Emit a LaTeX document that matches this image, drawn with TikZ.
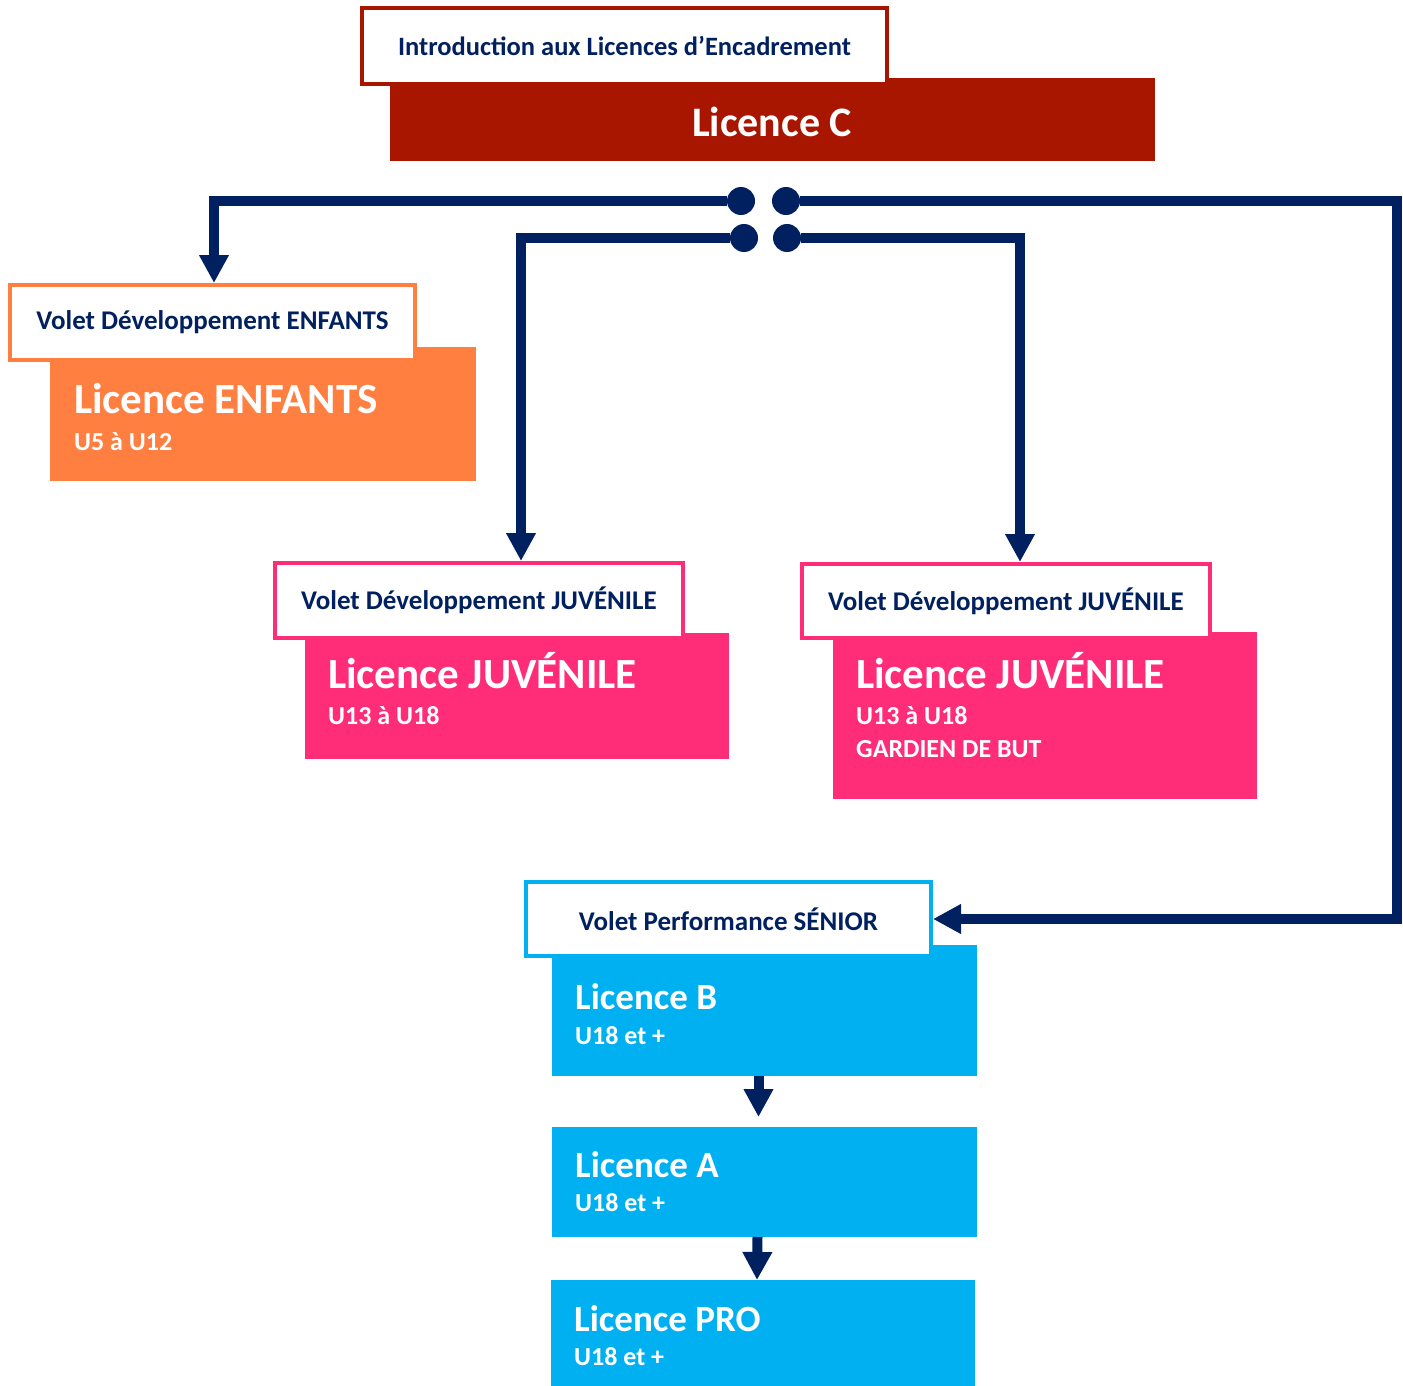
\documentclass[tikz,border=0pt]{standalone}
\usepackage{fontspec}
\setmainfont{Carlito}
\usetikzlibrary{arrows.meta,calc,positioning}
\definecolor{navy}{HTML}{002060}
\definecolor{lcred}{HTML}{A81600}
\definecolor{lcorange}{HTML}{FF7F41}
\definecolor{lcpink}{HTML}{FF2D78}
\definecolor{lccyan}{HTML}{00B0F0}

\begin{document}
\begin{tikzpicture}[x=1pt,y=-1pt,%
lbl/.style = {draw, line width=4pt, fill=white, text=navy, font=\bfseries\fontsize{27}{31}\selectfont, minimum width=405pt, minimum height=75pt, inner sep=0pt},
blk/.style = {minimum width=425pt, inner sep=0pt, outer sep=0pt},
big/.style = {anchor=base west, inner sep=0pt, text=white, font=\bfseries\fontsize{43}{47}\selectfont},
sub/.style = {anchor=base west, inner sep=0pt, text=white, font=\bfseries\fontsize{26}{30}\selectfont},
bigb/.style = {big, font=\bfseries\fontsize{37}{41}\selectfont},
dot/.style = {circle, fill=navy, minimum size=28pt, inner sep=0pt},
link/.style = {draw=navy, line width=10pt, -{Triangle[length=28pt,width=28pt]}}]
\useasboundingbox (0,0) rectangle (1403,1386);

\node[blk, fill=lcred, minimum width=765pt, minimum height=83pt] (cbox) at (772.5,119.5) {};
\node[lbl, draw=lcred, minimum width=525pt, minimum height=76pt, font=\bfseries\fontsize{26.5}{30}\selectfont] (intro) at (624.5,46) {Introduction aux Licences d’Encadrement};
\node[big, anchor=base, font=\bfseries\fontsize{42}{46}\selectfont] (ctxt) at (772,137) {Licence C};

\node[blk, fill=lcorange, minimum width=426pt, minimum height=134pt] (enfbox) at (263,414) {};
\node[lbl, draw=lcorange] (enflbl) at (212.5,322.5) {Volet Développement ENFANTS};
\node[big] (enft) at (74,413) {Licence ENFANTS};
\node[sub] (enfs) at (74,450) {U5 à U12};

\node[blk, fill=lcpink, minimum width=424pt, minimum height=126pt] (juvbox) at (517,696) {};
\node[lbl, draw=lcpink, minimum width=408pt] (juvlbl) at (479,600.5) {Volet Développement JUVÉNILE};
\node[big] (juvt) at (328,688) {Licence JUVÉNILE};
\node[sub] (juvs) at (328,724) {U13 à U18};

\node[blk, fill=lcpink, minimum width=424pt, minimum height=167pt] (gdbox) at (1045,715.5) {};
\node[lbl, draw=lcpink, minimum width=408pt, minimum height=74pt] (gdlbl) at (1006,601) {Volet Développement JUVÉNILE};
\node[big] (gdt) at (856,688) {Licence JUVÉNILE};
\node[sub] (gds) at (856,724) {U13 à U18};
\node[sub] (gdg) at (856,757) {GARDIEN DE BUT};

\node[blk, fill=lccyan, minimum height=131pt] (bbox) at (764.5,1010.5) {};
\node[lbl, draw=lccyan, minimum height=74pt] (senlbl) at (728.5,919) {Volet Performance SÉNIOR};
\node[bigb] (bt) at (575,1009) {Licence B};
\node[sub] (bs) at (575,1044) {U18 et +};

\node[blk, fill=lccyan, minimum height=110pt] (abox) at (764.5,1182) {};
\node[bigb] (at) at (575,1177) {Licence A};
\node[sub] (as) at (575,1211) {U18 et +};

\node[blk, fill=lccyan, minimum width=424pt, minimum height=106pt] (probox) at (763,1333) {};
\node[bigb] (prot) at (574,1331) {Licence PRO};
\node[sub] (pros) at (574,1365) {U18 et +};

\node[dot] (d1) at (741,201) {};
\node[dot] (d2) at (786,201) {};
\node[dot] (d3) at (744,238) {};
\node[dot] (d4) at (787,238) {};
\coordinate (rc) at (1397,201);

\draw[link] (d1) -| ([xshift=1.5pt]enflbl.north);
\draw[link] (d3) -| ([xshift=42pt]juvlbl.north);
\draw[link] (d4) -| ([xshift=14pt]gdlbl.north);
\draw[link] (d2) -- (rc) |- (senlbl.east);
\draw[link] ([xshift=-6pt]bbox.south) -- ([xshift=-6pt,yshift=10pt]abox.north);
\draw[link] ([xshift=-7pt]abox.south) -- ([xshift=-6pt]probox.north);
\end{tikzpicture}
\end{document}
